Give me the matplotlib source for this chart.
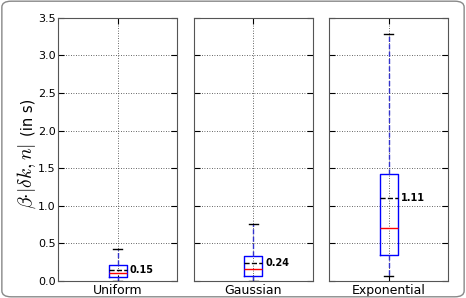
import numpy as np
import matplotlib as mpl
import matplotlib.pyplot as plt
from matplotlib.patches import FancyBboxPatch

# Box statistics (in s)
categories = ["Uniform", "Gaussian", "Exponential"]
q1 = [0.05, 0.07, 0.34]
q3 = [0.21, 0.33, 1.43]
medians = [0.11, 0.165, 0.71]
means = [0.15, 0.24, 1.11]
whisker_lo = [0.0, 0.0, 0.07]
whisker_hi = [0.43, 0.76, 3.29]
mean_labels = ["0.15", "0.24", "1.11"]

mpl.rcParams["mathtext.fontset"] = "cm"

fig, axes = plt.subplots(1, 3, sharey=True, figsize=(4.66, 2.98), dpi=100)
fig.subplots_adjust(left=0.125, right=0.962, bottom=0.057, top=0.94, wspace=0.14)

for i, ax in enumerate(axes):
    stats = [{
        "med": medians[i], "q1": q1[i], "q3": q3[i],
        "whislo": whisker_lo[i], "whishi": whisker_hi[i],
        "mean": means[i], "fliers": [], "label": categories[i],
    }]
    ax.bxp(stats, positions=[1], widths=0.15, showmeans=True, meanline=True,
           boxprops=dict(color="blue", linewidth=1),
           whiskerprops=dict(color="#3333cc", linestyle="--", linewidth=1),
           capprops=dict(color="black", linewidth=1),
           medianprops=dict(color="red", linewidth=1),
           meanprops=dict(color="black", linestyle="--", linewidth=1))
    ax.text(1.1, means[i], mean_labels[i], fontsize=7, fontweight="bold",
            va="center", ha="left")
    ax.set_xlim(0.5, 1.5)
    ax.set_ylim(0, 3.5)
    ax.set_yticks(np.arange(0, 3.51, 0.5))
    ax.grid(True, color="#333333", linestyle=(0, (1, 2)), linewidth=0.6)
    ax.set_axisbelow(True)
    ax.tick_params(direction="in", top=True, right=True, labelsize=8,
                   length=4, pad=2)
    ax.tick_params(axis="x", labelsize=9)
    for s in ax.spines.values():
        s.set_color("#555555")

# y label: math part drawn larger than the unit, both on one baseline
axes[0].text(-0.22, 0.40, r"$\beta{\cdot}|\delta k,n|$", transform=axes[0].transAxes,
             rotation=90, rotation_mode="anchor", fontsize=14,
             ha="center", va="baseline")
axes[0].text(-0.22, 0.62, "(in s)", transform=axes[0].transAxes,
             rotation=90, rotation_mode="anchor", fontsize=10.5,
             ha="center", va="baseline")

# rounded frame around the figure
fig.patches.append(FancyBboxPatch((0.004, 0.004), 0.992, 0.992,
                                  boxstyle="round,pad=0,rounding_size=0.02",
                                  transform=fig.transFigure, fill=False,
                                  edgecolor="#888888", linewidth=1))

fig.savefig("out.png", dpi=100)
